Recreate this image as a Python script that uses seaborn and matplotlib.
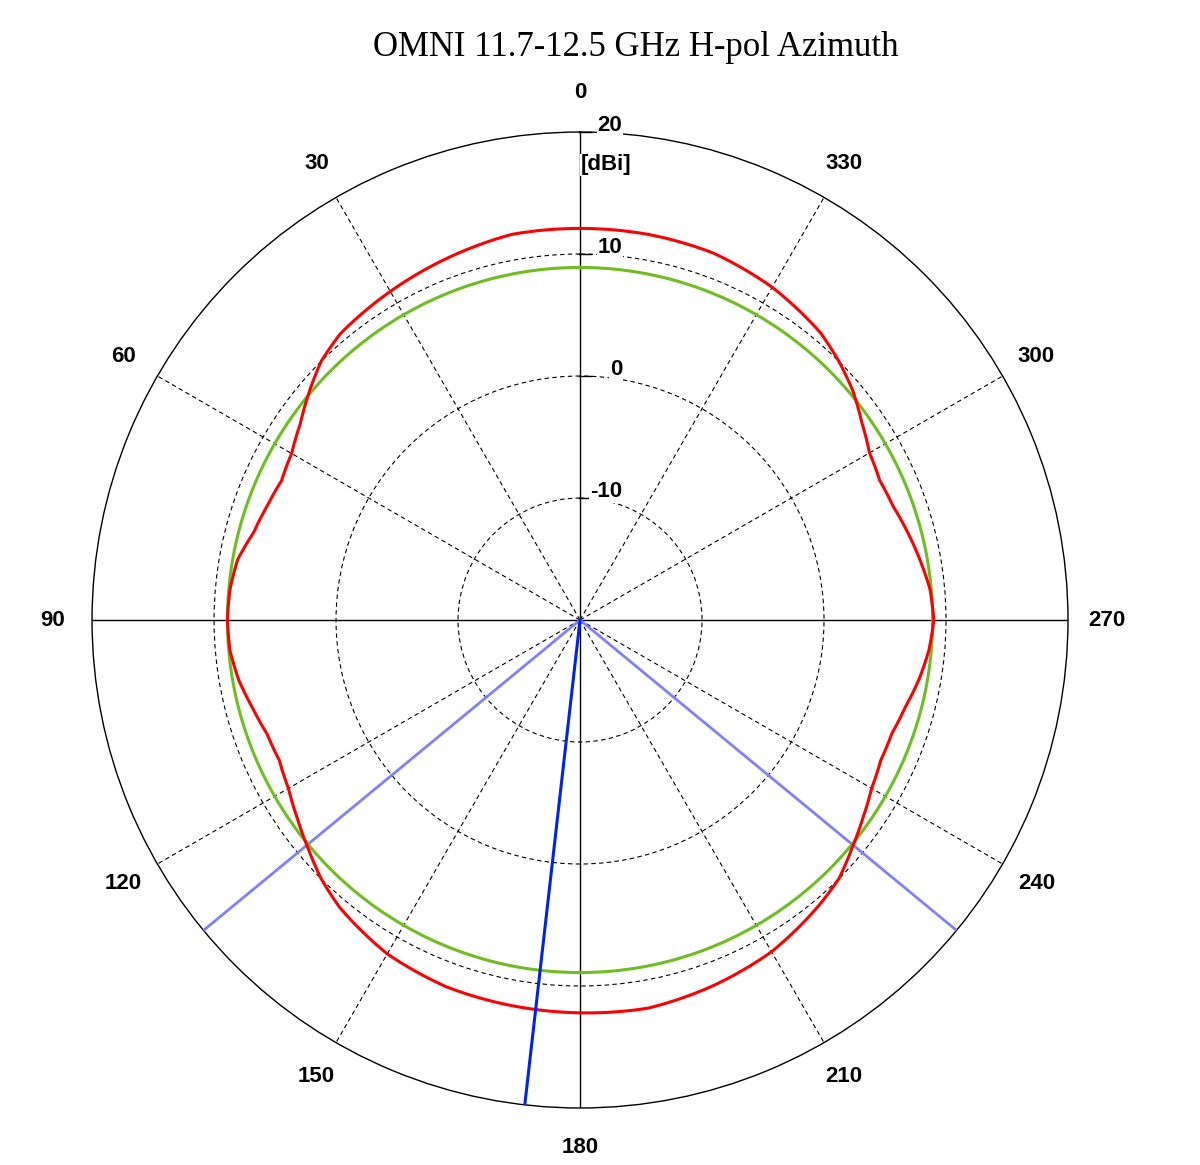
import numpy as np
import pandas as pd
import seaborn as sns
import matplotlib
matplotlib.use("Agg")
import matplotlib.pyplot as plt
import matplotlib.transforms as mtrans

# azimuth angle (deg, counter-clockwise from top) and measured gain (dBi)
angle_deg = [0, 10, 20, 30, 40, 45, 50, 55, 60, 65, 70, 75, 80, 85, 90,
             95, 100, 105, 110, 115, 120, 125, 130, 135, 140, 150, 160, 170,
             180, 190, 200, 210, 220, 225, 230, 235, 240, 245, 250, 255, 260,
             265, 270, 275, 280, 285, 290, 295, 300, 305, 310, 315, 320, 330,
             340, 350, 360]
gain_h = [12.1, 12.1, 11.6, 11.1, 10.6, 10.0, 9.0, 8.0, 7.3, 7.0, 7.3, 7.7, 8.5, 8.8, 8.9,
          8.8, 8.4, 7.8, 7.3, 7.2, 7.6, 8.3, 9.1, 10.0, 10.7, 11.6, 12.0, 12.1,
          12.2, 12.3, 11.9, 11.4, 10.5, 10.0, 9.1, 8.3, 7.6, 7.2, 7.2, 7.6, 8.2,
          8.7, 9.0, 8.8, 8.3, 7.8, 7.3, 7.1, 7.4, 8.2, 9.2, 10.0, 10.7, 11.5,
          12.0, 12.1, 12.1]
ref_gain = 8.9  # green reference circle
beam_edges = [129.5, 230.5]  # light blue markers
peak_marker = 173.5  # dark blue marker

r_min, r_max = -20, 20
ring_ticks = [-10, 0, 10, 20]
theta_ticks = list(range(0, 360, 30))

sns.set_style("white")
plt.rcParams['font.family'] = ['Liberation Sans', 'DejaVu Sans']
plt.rcParams['text.color'] = 'black'

fig = plt.figure(figsize=(12, 11.65), dpi=100)
ax = fig.add_axes([0.0767, 0.0489, 0.8133, 0.8378], projection='polar')
ax.set_theta_zero_location('N')
ax.set_theta_direction(1)
ax.set_ylim(r_min, r_max)

# grid
ax.set_yticks(ring_ticks[:-1])
ax.set_yticklabels([])
ax.set_xticks(np.deg2rad(theta_ticks))
ax.set_xticklabels([])
ax.grid(True, color='black', linewidth=0.8, linestyle=(0, (4, 3)))
for a, gl in zip(theta_ticks, ax.xaxis.get_gridlines()):
    if a % 90 == 0:
        gl.set_linestyle('-')
        gl.set_linewidth(1.0)
ax.spines['polar'].set_color('black')
ax.spines['polar'].set_linewidth(1.0)
ax.tick_params(length=0)

# data curves
df = pd.DataFrame({'theta': np.deg2rad(angle_deg), 'gain': gain_h})
sns.lineplot(data=df, x='theta', y='gain', ax=ax, color='#FF0000', linewidth=2.2,
             estimator=None, sort=False, zorder=5)
ref = pd.DataFrame({'theta': np.deg2rad(angle_deg), 'gain': [ref_gain] * len(angle_deg)})
sns.lineplot(data=ref, x='theta', y='gain', ax=ax, color='#6DBE1E', linewidth=2.2,
             estimator=None, sort=False, zorder=4)
# draw curve segments as arcs/spirals instead of chords
for ln in ax.lines:
    ln.get_path()._interpolation_steps = 40

for b in beam_edges:
    ax.plot([np.deg2rad(b)] * 2, [r_min, r_max], color='#8080FF', linewidth=2.0, zorder=3)
ax.plot([np.deg2rad(peak_marker)] * 2, [r_min, r_max], color='#0022EE', linewidth=2.2, zorder=6)
ax.set_xlabel('')
ax.set_ylabel('')

# small ticks on the vertical axis at each ring
for r in ring_ticks:
    ax.plot([0], [r], marker='_', color='black', markersize=10, markeredgewidth=1.0,
            clip_on=False, zorder=6,
            transform=ax.transData + mtrans.ScaledTranslation(5 / 100, 0, fig.dpi_scale_trans))

# angle labels
for a in theta_ticks:
    ax.text(np.deg2rad(a), 23.2, str(a), ha='center', va='center', fontsize=16,
            fontweight='bold', clip_on=False)

# radial labels
shift = mtrans.ScaledTranslation(42 / 100, -4 / 100, fig.dpi_scale_trans)
for r in ring_ticks:
    ax.text(0, r, str(r), transform=ax.transData + shift, ha='right', va='bottom',
            fontsize=16, fontweight='bold', zorder=7,
            bbox=dict(facecolor='white', edgecolor='none', pad=0.5))

ax.text(0, 17.3, '[dBi]', ha='center', va='center', fontsize=16, fontweight='bold', zorder=7,
        transform=ax.transData + mtrans.ScaledTranslation(26 / 100, 0, fig.dpi_scale_trans),
        bbox=dict(facecolor='white', edgecolor='none', pad=0.5))

fig.text(0.53, 0.959, 'OMNI 11.7-12.5 GHz H-pol Azimuth', ha='center', va='center',
         fontsize=25, family='Liberation Serif')

fig.savefig('out.png', dpi=100, facecolor='white')
